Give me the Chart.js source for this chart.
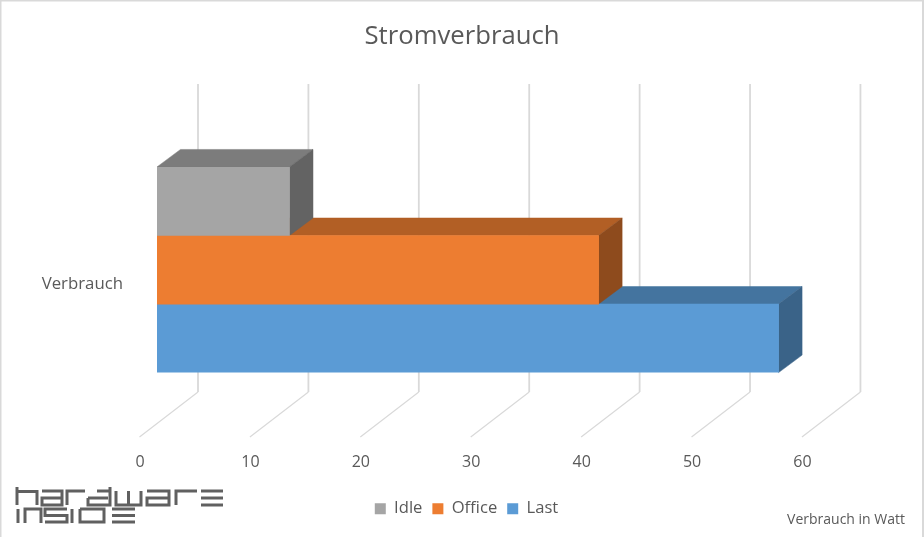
<!DOCTYPE html>
<html lang="de">
<head>
<meta charset="utf-8">
<title>Stromverbrauch</title>
<script src="https://cdn.jsdelivr.net/npm/chart.js@4/dist/chart.umd.min.js"></script>
<style>html,body{margin:0;padding:0;background:#fff}canvas{display:block}</style>
</head>
<body>
<canvas id="c" width="924" height="537" role="img" aria-label="Stromverbrauch, Verbrauch in Watt. hardware inside"></canvas>
<script>
const categories = ['Verbrauch'];
const idleValues = [12];
const officeValues = [40];
const lastValues = [56.3];
const seriesNames = ['Idle', 'Office', 'Last'];
const frontColors = ['#A5A5A5', '#ED7D31', '#5B9BD5'];
const topColors = ['#7C7C7C', '#B25F25', '#44749F'];
const sideColors = ['#636363', '#8E4B1D', '#3A6388'];
const textColor = '#595959';
const fontFamily = '"Open Sans", sans-serif';
const lastTick = 60;

const DEPTH = {dx: 23.5, dy: -17.5};
const WALL = {dx: 41, top: 84, floor: 392, frontDx: -17.5, frontY: 437};

const poly = (ctx, pts, fill) => {
  ctx.beginPath();
  pts.forEach((p, i) => i ? ctx.lineTo(p[0], p[1]) : ctx.moveTo(p[0], p[1]));
  ctx.closePath();
  ctx.fillStyle = fill;
  ctx.fill();
  ctx.strokeStyle = fill;
  ctx.lineWidth = 0.5;
  ctx.stroke();
};

const depthPlugin = {
  id: 'depth',
  afterLayout(chart) {
    chart.legend.left += 4.5;
    chart.legend.right += 4.5;
  },
  beforeDatasetsDraw(chart) {
    const {ctx, scales: {x}} = chart;
    ctx.save();
    ctx.strokeStyle = '#D9D9D9';
    x.ticks.forEach(t => {
      const px = x.getPixelForValue(t.value);
      ctx.lineWidth = 1.8;
      ctx.beginPath();
      ctx.moveTo(px + WALL.dx, WALL.top);
      ctx.lineTo(px + WALL.dx, WALL.floor);
      ctx.stroke();
      ctx.lineWidth = 1.2;
      ctx.beginPath();
      ctx.moveTo(px + WALL.dx, WALL.floor);
      ctx.lineTo(px + WALL.frontDx, WALL.frontY);
      ctx.stroke();
    });
    for (let i = chart.data.datasets.length - 1; i >= 0; i--) {
      const b = chart.getDatasetMeta(i).data[0];
      const t = b.y - b.height / 2, bt = b.y + b.height / 2, l = b.base, r = b.x;
      const {dx, dy} = DEPTH;
      poly(ctx, [[l, t], [l + dx, t + dy], [r + dx, t + dy], [r, t]], topColors[i]);
      poly(ctx, [[r, t], [r + dx, t + dy], [r + dx, bt + dy], [r, bt]], sideColors[i]);
    }
    ctx.restore();
  }
};

const decorPlugin = {
  id: 'decor',
  afterDraw(chart) {
    const {ctx} = chart;
    ctx.save();
    ctx.strokeStyle = '#D9D9D9';
    ctx.lineWidth = 2;
    ctx.beginPath();
    ctx.moveTo(0.5, 537); ctx.lineTo(0.5, 0.5); ctx.lineTo(923, 0.5); ctx.lineTo(923, 537);
    ctx.stroke();

    ctx.fillStyle = textColor;
    ctx.font = '14px ' + fontFamily;
    ctx.textAlign = 'right';
    ctx.textBaseline = 'middle';
    ctx.fillText('Verbrauch in Watt', 905, 520);

    // logo
    const a = 487, b = 491, c = 498, d = 505, e = 509, f = 515.5, g = 522;
    const logo = [
      [[17,a],[17,d]], [[17,b+.5],[37,b+.5],[37,d]],
      [[42,b],[62,b],[62,d],[42,d],[42,c],[62,c]],
      [[67,d],[67,b],[85,b]],
      [[88,c],[108,c]], [[88,c],[88,d],[110,d],[110,a]], [[97,b],[110,b]],
      [[116,b],[116,d],[141,d],[141,b]], [[128.5,b],[128.5,d]],
      [[147,b],[169,b],[169,d],[147,d],[147,c],[169,c]],
      [[176,d],[176,b],[197,b]],
      [[201,b],[223,b]], [[201,c],[223,c]], [[201,d],[223,d]],
      [[18,e],[18,g+1]],
      [[25,g+1],[25,e],[41,e],[41,g+1]],
      [[45,g],[67,g],[67,f],[45,f],[45,e],[67,e]],
      [[72,e],[72,g+1]],
      [[80,e],[104,e],[104,g],[80,g],[80,e]],
      [[112,e],[135,e]], [[112,f],[135,f]], [[112,g],[135,g]]
    ];
    ctx.strokeStyle = '#606060';
    ctx.lineWidth = 3;
    ctx.lineJoin = 'miter';
    ctx.lineCap = 'butt';
    logo.forEach(s => {
      ctx.beginPath();
      s.forEach((p, i) => i ? ctx.lineTo(p[0], p[1]) : ctx.moveTo(p[0], p[1]));
      ctx.stroke();
    });
    ctx.restore();
  }
};

new Chart(document.getElementById('c'), {
  type: 'bar',
  data: {
    labels: categories,
    datasets: [
      {label: seriesNames[0], data: idleValues, backgroundColor: frontColors[0]},
      {label: seriesNames[1], data: officeValues, backgroundColor: frontColors[1]},
      {label: seriesNames[2], data: lastValues, backgroundColor: frontColors[2]}
    ]
  },
  options: {
    indexAxis: 'y',
    responsive: false,
    animation: false,
    barPercentage: 1,
    categoryPercentage: 1,
    layout: {padding: {left: 0, right: 0, top: 0, bottom: 10}},
    scales: {
      x: {
        min: 0, max: 69.47,
        grid: {display: false},
        border: {display: false},
        afterFit(s) { s.height = 117.8; },
        afterBuildTicks(s) { s.ticks = s.ticks.filter(t => t.value <= lastTick); },
        ticks: {
          stepSize: 10, autoSkip: false, maxRotation: 0, padding: 72.5, labelOffset: -17,
          color: textColor, font: {family: fontFamily, size: 16}
        }
      },
      y: {
        grid: {display: false},
        border: {display: false},
        afterFit(s) { s.width = 157; },
        ticks: {
          padding: 26, labelOffset: 14.5,
          color: textColor, font: {family: fontFamily, size: 16.8}
        }
      }
    },
    plugins: {
      title: {
        display: true, text: 'Stromverbrauch', color: textColor,
        font: {family: fontFamily, size: 25.7, weight: 'normal'},
        padding: {top: 21.6, bottom: 114.5}
      },
      legend: {
        position: 'bottom',
        labels: {boxWidth: 11, boxHeight: 11, padding: 10, color: textColor,
          font: {family: fontFamily, size: 16.6}}
      },
      tooltip: {enabled: false}
    }
  },
  plugins: [depthPlugin, decorPlugin]
});
</script>
</body>
</html>
